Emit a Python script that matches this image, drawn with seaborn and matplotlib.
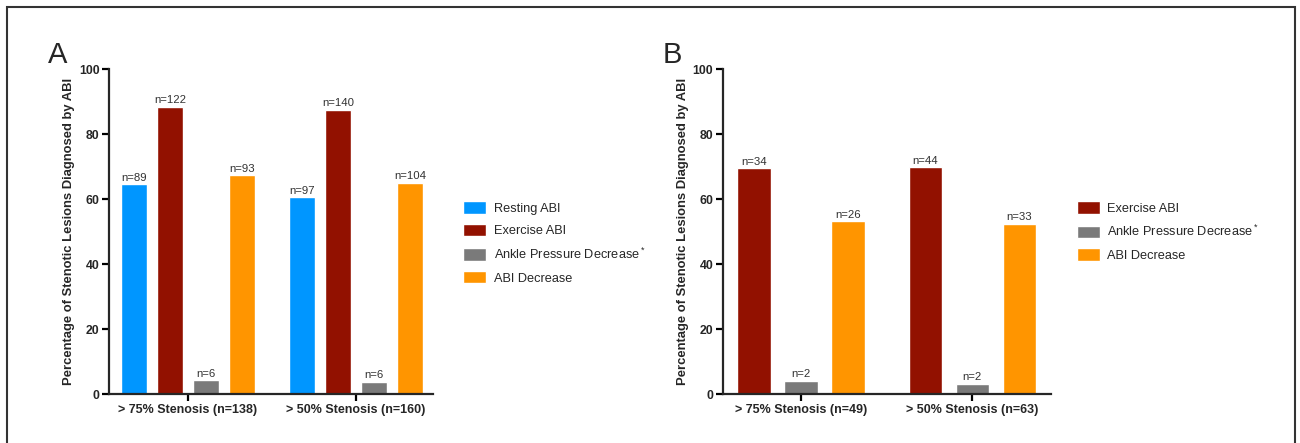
import matplotlib
matplotlib.use("Agg")
import matplotlib.pyplot as plt
import matplotlib.patches as mpatches
import seaborn as sns
import pandas as pd

# panel A
groups_a = ["> 75% Stenosis (n=138)", "> 50% Stenosis (n=160)"]
measures_a = ["Resting ABI", "Exercise ABI", "Ankle Pressure Decrease$^*$", "ABI Decrease"]
pct_a = {
    "Resting ABI": [64.5, 60.6],
    "Exercise ABI": [88.4, 87.5],
    "Ankle Pressure Decrease$^*$": [4.3, 3.75],
    "ABI Decrease": [67.4, 65.0],
}
n_a = {
    "Resting ABI": [89, 97],
    "Exercise ABI": [122, 140],
    "Ankle Pressure Decrease$^*$": [6, 6],
    "ABI Decrease": [93, 104],
}

# panel B
groups_b = ["> 75% Stenosis (n=49)", "> 50% Stenosis (n=63)"]
measures_b = ["Exercise ABI", "Ankle Pressure Decrease$^*$", "ABI Decrease"]
pct_b = {
    "Exercise ABI": [69.4, 69.8],
    "Ankle Pressure Decrease$^*$": [4.1, 3.2],
    "ABI Decrease": [53.1, 52.4],
}
n_b = {
    "Exercise ABI": [34, 44],
    "Ankle Pressure Decrease$^*$": [2, 2],
    "ABI Decrease": [26, 33],
}

colors = {
    "Resting ABI": "#0096ff",
    "Exercise ABI": "#921100",
    "Ankle Pressure Decrease$^*$": "#7a7a7a",
    "ABI Decrease": "#ff9500",
}

sns.set_style("ticks")
plt.rcParams["font.family"] = ["Liberation Sans", "DejaVu Sans"]
plt.rcParams["mathtext.fontset"] = "custom"
plt.rcParams["mathtext.rm"] = "Liberation Sans"

fig = plt.figure(figsize=(13, 4.43), dpi=100)
ax_a = fig.add_axes([0.0842, 0.1106, 0.2488, 0.7336])
ax_b = fig.add_axes([0.5562, 0.1106, 0.2523, 0.7336])


def make_df(groups, measures, pct):
    rows = []
    for m in measures:
        for g, v in zip(groups, pct[m]):
            rows.append({"group": g, "measure": m, "pct": v})
    return pd.DataFrame(rows)


def draw(ax, groups, measures, pct, counts, width, gap, xlim, leg_x, leg_y, letter, letter_x):
    df = make_df(groups, measures, pct)
    sns.barplot(data=df, x="group", y="pct", hue="measure", order=groups,
                hue_order=measures, palette=colors, width=width, gap=gap,
                saturation=1, ax=ax)
    for cont, m in zip(ax.containers, measures):
        ax.bar_label(cont, labels=[f"n={c}" for c in counts[m]], padding=1,
                     fontsize=8.2, color="#333333")
    ax.set_ylim(0, 100)
    ax.set_xlim(*xlim)
    ax.set_yticks([0, 20, 40, 60, 80, 100])
    ax.set_xlabel("")
    ax.set_ylabel("Percentage of Stenotic Lesions Diagnosed by ABI",
                  fontsize=9.4, fontweight="bold", labelpad=3)
    for lab in ax.get_xticklabels():
        lab.set_fontweight("bold")
        lab.set_fontsize(9)
    for lab in ax.get_yticklabels():
        lab.set_fontweight("bold")
        lab.set_fontsize(8.8)
    ax.tick_params(axis="both", width=1.6, length=5, pad=2, color="black")
    for s in ["left", "bottom"]:
        ax.spines[s].set_linewidth(1.6)
    sns.despine(ax=ax)
    handles, labels = ax.get_legend_handles_labels()
    ax.legend(handles, labels, loc="center left", bbox_to_anchor=(leg_x, leg_y),
              frameon=False, fontsize=9.2, handlelength=1.75, handleheight=1.1,
              labelspacing=0.72, handletextpad=0.6)
    ax.text(letter_x, 1.0, letter, transform=ax.transAxes, fontsize=21,
            ha="left", va="bottom")


draw(ax_a, groups_a, measures_a, pct_a, n_a, 0.857, 0.26, (-0.467, 1.458),
     1.059, 0.465, "A", -0.19)
draw(ax_b, groups_b, measures_b, pct_b, n_b, 0.825, 0.29, (-0.456, 1.46),
     1.045, 0.5, "B", -0.185)

# outer frame
fig.patches.append(mpatches.Rectangle((7 / 1300, -0.02), 1288 / 1300, 1.02 - 7 / 443,
                                      transform=fig.transFigure, fill=False,
                                      edgecolor="#333333", linewidth=1.5))

fig.savefig("out.png", dpi=100)
